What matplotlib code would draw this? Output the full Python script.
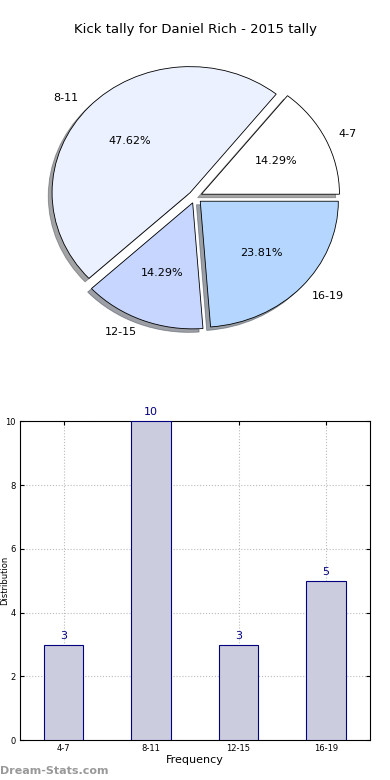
import matplotlib
matplotlib.use("Agg")
import matplotlib.pyplot as plt
import numpy as np

# ---------- Data ----------
title = "Kick tally for Daniel Rich - 2015 tally"
groups = ["4-7", "8-11", "12-15", "16-19"]
counts = [3, 10, 3, 5]
pie_colors = ["#ffffff", "#ebf1ff", "#c6d6ff", "#b4d6ff"]

fig = plt.figure(figsize=(3.9, 7.8), dpi=100)

# ---------- Pie ----------
ax1 = fig.add_axes([0.058, 0.5455, 0.885, 0.404])
wedges, texts, autotexts = ax1.pie(
    counts, labels=groups, colors=pie_colors, explode=[0.05] * len(counts),
    autopct="%.2f%%", startangle=0, shadow=True,
    wedgeprops=dict(edgecolor="black", linewidth=0.6),
    textprops=dict(fontsize=8),
)
ax1.set_aspect("auto")
ax1.set_xlim(-1.25, 1.25)
ax1.set_ylim(-1.25, 1.25)
fig.text(0.5, 0.962, title, ha="center", va="center", fontsize=9.5)

# ---------- Bars ----------
ax2 = fig.add_axes([0.051, 0.051, 0.897, 0.409])
x = np.arange(len(groups))
ax2.bar(x, counts, width=0.45, color="#ccccdf", edgecolor="navy", linewidth=0.8, zorder=3)
for xi, c in zip(x, counts):
    ax2.text(xi, c + 0.12, str(c), ha="center", va="bottom", color="navy", fontsize=8)
ax2.set_xlim(-0.5, 3.5)
ax2.set_ylim(0, 10)
ax2.set_xticks(x)
ax2.set_xticklabels(groups)
ax2.set_yticks([0, 2, 4, 6, 8, 10])
ax2.tick_params(labelsize=6, direction="in", top=True, right=True, length=3, pad=3)
ax2.grid(True, linestyle=":", color="#bbbbbb", linewidth=0.8, zorder=0)
ax2.set_axisbelow(True)
ax2.set_xlabel("Frequency", fontsize=8, labelpad=1)
ax2.set_ylabel("Distribution", fontsize=6)
ax2.yaxis.set_label_coords(-0.03, 0.5)

fig.text(0.0, 0.012, "Dream-Stats.com", ha="left", va="center", fontsize=8,
         color="#999999", fontweight="bold")

fig.savefig("out.png", dpi=100)
